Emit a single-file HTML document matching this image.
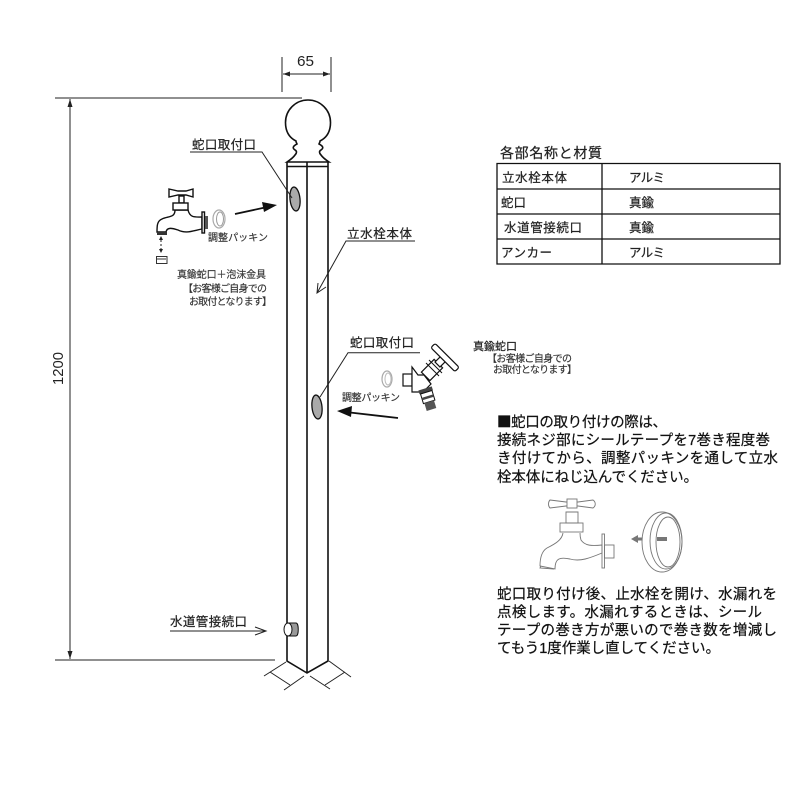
<!DOCTYPE html>
<html><head><meta charset="utf-8"><style>
html,body{margin:0;padding:0;background:#fff}
svg{display:block}
text{font-family:"Liberation Sans","Noto Sans CJK JP",sans-serif;fill:#222;stroke:#222;stroke-width:.22}
.s{font-size:10px;fill:#333;stroke:#333;stroke-width:.15}
.m{font-size:12.5px}
.b{font-size:14.5px;fill:#111;stroke:#111}
.l{fill:none;stroke:#222;stroke-width:1}
.p{fill:none;stroke:#111;stroke-width:1.6}
.g{fill:none;stroke:#777;stroke-width:.9}
</style></head><body>
<svg width="800" height="800" viewBox="0 0 800 800" xmlns="http://www.w3.org/2000/svg">
<rect width="800" height="800" fill="#fff"/>
<!-- dims -->
<path class="l" d="M282 57V92M331 57V92M283 74H330M55 98H302M55 660H275M70 99V659"/>
<path fill="#222" d="M283 74l7-2.500v5zM330 74l-7-2.500v5zM70 99l-2.500 8h5zM70 659l-2.500-8h5z"/>
<text x="297" y="66" font-size="15" textLength="17" lengthAdjust="spacingAndGlyphs" style="stroke-width:0">65</text>
<text transform="translate(63,385) rotate(-90)" font-size="15" textLength="33" lengthAdjust="spacingAndGlyphs" style="stroke-width:0">1200</text>
<!-- post -->
<path class="p" d="M296 141C288 137 285.500 130 285.500 122.500A22.500 22.500 0 0 1 330.500 122.500C330.500 130 328 137 320 141C320 143 319 143 319 144C323 146 324 148 321 150C319 151 319 153 321 155C323 158 326 160 329 162H287C290 160 293 158 295 155C297 153 297 151 295 150C292 148 293 146 297 144C297 143 296 143 296 141Z"/>
<path class="p" d="M287 162V661L307 673L328 661V162M287 166.500H328M307 162V673"/>
<!-- holes -->
<ellipse cx="295" cy="199" rx="5" ry="12" fill="#aaa" stroke="#111" stroke-width="1.300" transform="rotate(-6 295 199)"/>
<ellipse cx="317" cy="407" rx="5" ry="12" fill="#aaa" stroke="#111" stroke-width="1.300" transform="rotate(-6 317 407)"/>
<!-- connector -->
<path fill="#999" stroke="#111" stroke-width="1" d="M288 623H296C299 623 299 636 296 636H288Z"/>
<ellipse cx="288" cy="629.500" rx="4" ry="6.500" fill="#fff" stroke="#111" stroke-width="1"/>
<!-- bottom dims -->
<path class="l" d="M264 676L286 662M270 672L290 685M284 690L304 676M310 676L330 689M325 685L345 672M329 661L351 677"/>
<!-- leaders -->
<path class="l" d="M190 152H262L292 198M415 241H346L317 293M420 352.700H348L320 397M170 631H265M255 627L266 631L255 635M318 283L317 293L326 287"/>
<path stroke="#111" stroke-width="1.800" fill="none" d="M235 214L265 207.500M398 418L350 412.500"/>
<path fill="#111" d="M277 205L262 202L264 212ZM337 411L352 406L351 417Z"/>
<!-- labels -->
<text class="m" x="192" y="149" textLength="64">蛇口取付口</text>
<text class="m" x="347" y="238" textLength="65">立水栓本体</text>
<text class="m" x="350" y="347" textLength="64">蛇口取付口</text>
<text class="m" x="170" y="626" textLength="77">水道管接続口</text>
<text class="s" x="208" y="241" textLength="60">調整パッキン</text>
<text class="s" x="177" y="278" textLength="89">真鍮蛇口＋泡沫金具</text>
<text class="s" x="183" y="292" textLength="84">【お客様ご自身での</text>
<text class="s" x="189" y="305" textLength="83">お取付となります】</text>
<text x="473" y="350" font-size="11" textLength="44">真鍮蛇口</text>
<text class="s" x="487" y="362" textLength="85">【お客様ご自身での</text>
<text class="s" x="493" y="373" textLength="84">お取付となります】</text>
<text class="s" x="342" y="401" textLength="58">調整パッキン</text>
<!-- faucet 1 -->
<g fill="#fff" stroke="#111" stroke-width="1.400">
<path d="M175 210C175 218 168 216 162 219C157 221 157 226 157 232H166C167 227 172 228 178 230C186 234 192 231 202 229V217C195 217 190 218 188 210Z"/>
<path d="M169 189L178 191H186L193 189V197L186 195H178L169 197Z"/>
<rect x="179" y="196" width="5" height="7"/>
<rect x="173" y="203" width="15" height="7"/>
<rect x="202" y="212" width="2.500" height="21"/>
</g>
<rect x="205" y="216" width="3" height="13" fill="#555"/>
<rect x="157" y="232" width="10" height="3" fill="#333"/>
<path stroke="#222" stroke-dasharray="2 2" d="M161 240V251"/>
<path fill="#222" d="M161 236l-2 4h4zM161 253l-2-4h4z"/>
<rect x="156.500" y="256.500" width="10.500" height="7" fill="none" stroke="#333"/>
<path stroke="#333" d="M157 259H166"/>
<ellipse cx="219" cy="219" rx="6" ry="9" fill="none" stroke="#aaa" stroke-width="1.200"/>
<ellipse cx="220" cy="219" rx="3.500" ry="7" fill="none" stroke="#999" stroke-width="1"/>
<!-- faucet 2 -->
<g fill="#fff" stroke="#111" stroke-width="1.200">
<rect x="403" y="374" width="9" height="12"/>
<path d="M412 367L418 375H424L431 384L423 392L412 392Z"/>
<rect x="423" y="364" width="18" height="12" transform="rotate(-45 432 370)"/>
<rect x="436" y="357.500" width="10" height="7" transform="rotate(-45 441 361)"/>
<rect x="428" y="354.500" width="34" height="6" rx="2" transform="rotate(45 445 357.500)"/>
</g>
<path stroke="#111" d="M426 363L439 376M429 360L442 373"/>
<g transform="rotate(-17 428 398)">
<rect x="421" y="388" width="14" height="4" fill="#444"/>
<rect x="422" y="392" width="12" height="10" fill="#fff" stroke="#111"/>
<rect x="422" y="396" width="12" height="2.500" fill="#444"/>
<rect x="423" y="402" width="10" height="8" fill="#555"/>
</g>
<ellipse cx="387" cy="379" rx="5" ry="8" fill="none" stroke="#aaa" stroke-width="1.200"/>
<ellipse cx="388" cy="379" rx="3" ry="6" fill="none" stroke="#bbb"/>
<!-- table -->
<text x="500" y="158" font-size="14" textLength="102">各部名称と材質</text>
<path fill="none" stroke="#111" stroke-width="1.300" d="M497 163.500H780V264H497ZM497 189H780M497 214H780M497 239H780M602 163.500V264"/>
<g font-size="12.500">
<text x="502" y="182" textLength="65">立水栓本体</text><text x="629" y="182" textLength="36">アルミ</text>
<text x="501" y="207" textLength="25">蛇口</text><text x="629" y="207" textLength="25">真鍮</text>
<text x="504" y="232" textLength="78">水道管接続口</text><text x="629" y="232" textLength="25">真鍮</text>
<text x="501" y="257" textLength="51">アンカー</text><text x="629" y="257" textLength="36">アルミ</text>
</g>
<!-- notes -->
<text class="b" x="497" y="427" textLength="170"><tspan style="font-family:'Noto Sans CJK JP',sans-serif">■</tspan>蛇口の取り付けの際は、</text>
<text class="b" x="497" y="445" textLength="273">接続ネジ部にシールテープを7巻き程度巻</text>
<text class="b" x="497" y="463" textLength="281">き付けてから、調整パッキンを通して立水</text>
<text class="b" x="497" y="482" textLength="201">栓本体にねじ込んでください。</text>
<text class="b" x="497" y="599" textLength="280">蛇口取り付け後、止水栓を開け、水漏れを</text>
<text class="b" x="497" y="617" textLength="265">点検します。水漏れするときは、シール</text>
<text class="b" x="497" y="635" textLength="280">テープの巻き方が悪いので巻き数を増減し</text>
<text class="b" x="497" y="653" textLength="223">てもう1度作業し直してください。</text>
<!-- faucet 3 -->
<g class="g">
<path d="M563 533C562 540 555 544 547 548C542 551 540 558 540 566L555 569C555 558 560 557 570 559C580 562 590 558 602 553V545C592 546 585 546 581 540C580 537 580 535 580 533"/>
<path d="M541 566L540 568L554 569"/>
<path d="M550 500L566 502H578L593 500C596 502 596 506 593 508L578 506H566L550 508C548 506 548 502 550 500Z"/>
<rect x="567" y="499" width="10" height="9" fill="#fff"/>
<path d="M566 512H578V523H566Z"/>
<rect x="560" y="523" width="23" height="9"/>
<rect x="602" y="534" width="2.500" height="34"/>
<rect x="604.500" y="545" width="9.500" height="13"/>
<ellipse cx="662" cy="542" rx="20" ry="30"/>
<ellipse cx="666" cy="541" rx="16" ry="28"/>
<ellipse cx="668" cy="542" rx="12" ry="25"/>
</g>
<rect x="657" y="537" width="10" height="4" fill="#777"/>
<path fill="#777" d="M631 539L638 535V537.500H642V540.500H638V543Z"/>
</svg>
</body></html>
